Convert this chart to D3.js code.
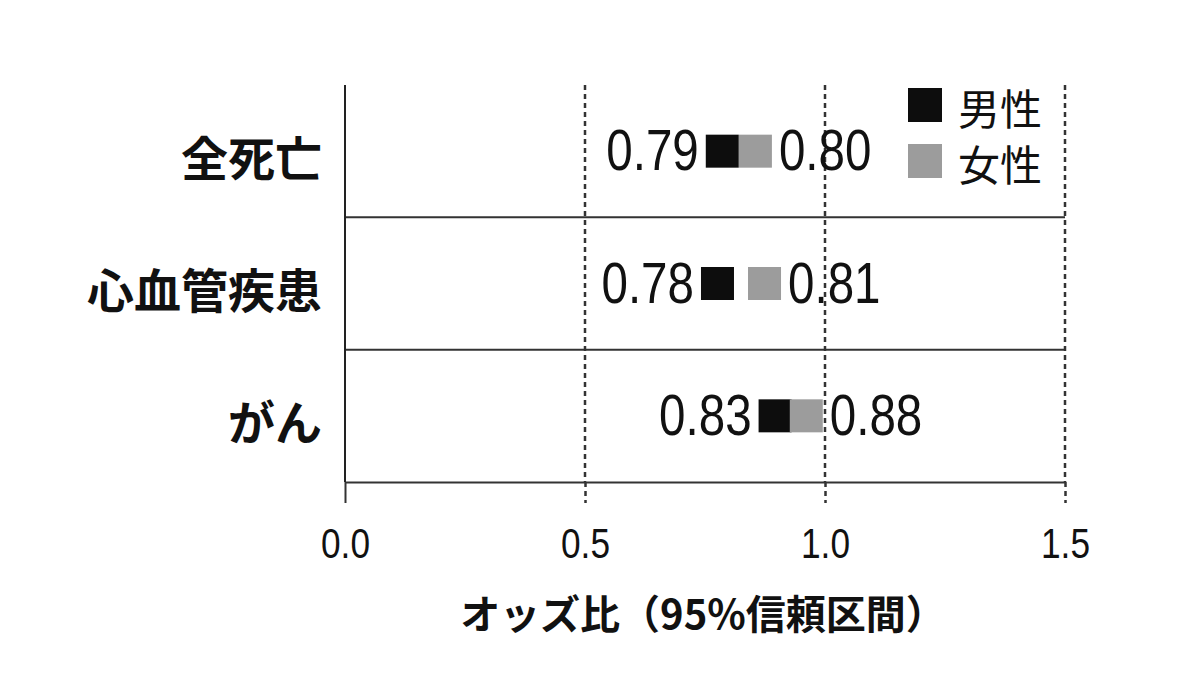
<!DOCTYPE html>
<html>
<head>
<meta charset="utf-8">
<script src="https://cdn.jsdelivr.net/npm/d3@7"></script>
<style>
  body { margin: 0; background: #fff; }
  .num { font-family: "Liberation Sans", Arial, sans-serif; }
  .jp { font-family: "Noto Sans CJK JP", sans-serif; }
</style>
</head>
<body>
<div id="chart"></div>
<script>

var categories = ["全死亡", "心血管疾患", "がん"];
var maleOdds = [0.79, 0.78, 0.83];
var femaleOdds = [0.80, 0.81, 0.88];
// where the squares sit on the axis in the picture (they are not at the printed values)
var malePos = [0.786, 0.776, 0.896];
var femalePos = [0.855, 0.874, 0.961];
var tickValues = [0.0, 0.5, 1.0, 1.5];
var legendLabels = ["男性", "女性"];
var colors = ["#0d0d0d", "#9c9c9c"];

var width = 1200, height = 698;
var sq = 33;
var narrow = "scale(0.82,1)";   // no narrow font installed, squeeze Liberation Sans

var svg = d3.select("#chart").append("svg")
    .attr("width", width)
    .attr("height", height);

var x = d3.scaleLinear()
    .domain([0, 1.5])
    .range([345, 1065]);

var y = d3.scaleBand()
    .domain(categories)
    .range([85, 482]);

// dotted reference lines
svg.selectAll(".grid")
    .data(tickValues.filter(function(d) { return d > 0; }))
  .enter().append("line")
    .attr("class", "grid")
    .attr("x1", function(d) { return x(d); })
    .attr("x2", function(d) { return x(d); })
    .attr("y1", y.range()[0])
    .attr("y2", y.range()[1])
    .attr("stroke", "#333")
    .attr("stroke-width", 2.5)
    .attr("stroke-dasharray", "5,4");

// row separators
svg.selectAll(".sep")
    .data(categories.slice(1))
  .enter().append("line")
    .attr("class", "sep")
    .attr("x1", x(0))
    .attr("x2", x(1.5))
    .attr("y1", function(d) { return y(d); })
    .attr("y2", function(d) { return y(d); })
    .attr("stroke", "#333")
    .attr("stroke-width", 2);

// x axis
var xAxis = svg.append("g")
    .attr("transform", "translate(0," + y.range()[1] + ")")
    .call(d3.axisBottom(x)
        .tickValues(tickValues)
        .tickFormat(d3.format(".1f"))
        .tickSize(21)
        .tickSizeOuter(0)
        .tickPadding(24));
xAxis.select(".domain").attr("stroke", "#333").attr("stroke-width", 2);
xAxis.selectAll(".tick line")
    .attr("stroke", "#333")
    .attr("stroke-width", function(d) { return d > 0 ? 2.5 : 2; })
    .attr("stroke-dasharray", function(d) { return d > 0 ? "5,4" : null; });
xAxis.selectAll(".tick text")
    .attr("class", "num")
    .attr("fill", "#111")
    .attr("transform", narrow)
    .style("font-size", "43px");

// y axis line
svg.append("line")
    .attr("x1", x(0)).attr("x2", x(0))
    .attr("y1", y.range()[0]).attr("y2", y.range()[1])
    .attr("stroke", "#222")
    .attr("stroke-width", 2);

// category labels
svg.selectAll(".cat")
    .data(categories)
  .enter().append("text")
    .attr("class", "jp")
    .attr("x", 322)
    .attr("y", function(d) { return y(d) + y.bandwidth() / 2 + 4; })
    .attr("text-anchor", "end")
    .attr("dominant-baseline", "central")
    .style("font-size", "47px")
    .style("font-weight", 700)
    .attr("fill", "#111")
    .text(function(d) { return d; });

var rows = categories.map(function(c, i) {
    return {cat: c, m: maleOdds[i], f: femaleOdds[i], mp: malePos[i], fp: femalePos[i]};
});

var g = svg.selectAll(".row")
    .data(rows)
  .enter().append("g")
    .attr("class", "row")
    .attr("transform", function(d) { return "translate(0," + (y(d.cat) + y.bandwidth() / 2) + ")"; });

g.append("rect")
    .attr("x", function(d) { return x(d.mp) - sq / 2; })
    .attr("y", -sq / 2)
    .attr("width", sq).attr("height", sq)
    .attr("fill", colors[0]);

g.append("rect")
    .attr("x", function(d) { return x(d.fp) - sq / 2; })
    .attr("y", -sq / 2)
    .attr("width", sq).attr("height", sq)
    .attr("fill", colors[1]);

g.append("g")
    .attr("transform", function(d) { return "translate(" + (x(d.mp) - sq / 2 - 7) + ",19)"; })
  .append("text")
    .attr("class", "num")
    .attr("transform", narrow)
    .attr("text-anchor", "end")
    .style("font-size", "58px")
    .attr("fill", "#111")
    .text(function(d) { return d3.format(".2f")(d.m); });

g.append("g")
    .attr("transform", function(d) { return "translate(" + (x(d.fp) + sq / 2 + 7) + ",19)"; })
  .append("text")
    .attr("class", "num")
    .attr("transform", narrow)
    .attr("text-anchor", "start")
    .style("font-size", "58px")
    .attr("fill", "#111")
    .text(function(d) { return d3.format(".2f")(d.f); });

// legend
var leg = svg.selectAll(".leg")
    .data(legendLabels)
  .enter().append("g")
    .attr("class", "leg")
    .attr("transform", function(d, i) { return "translate(908," + (88 + i * 56) + ")"; });

leg.append("rect")
    .attr("width", 34).attr("height", 34)
    .attr("fill", function(d, i) { return colors[i]; });

leg.append("text")
    .attr("class", "jp")
    .attr("x", 50)
    .attr("y", 18)
    .attr("dominant-baseline", "central")
    .style("font-size", "42px")
    .attr("fill", "#111")
    .text(function(d) { return d; });

// axis title
svg.append("text")
    .attr("class", "jp")
    .attr("x", 703)
    .attr("y", 612)
    .attr("text-anchor", "middle")
    .attr("dominant-baseline", "central")
    .style("font-size", "40px")
    .style("font-weight", 700)
    .attr("fill", "#111")
    .text("オッズ比（95%信頼区間）");

</script>
</body>
</html>
